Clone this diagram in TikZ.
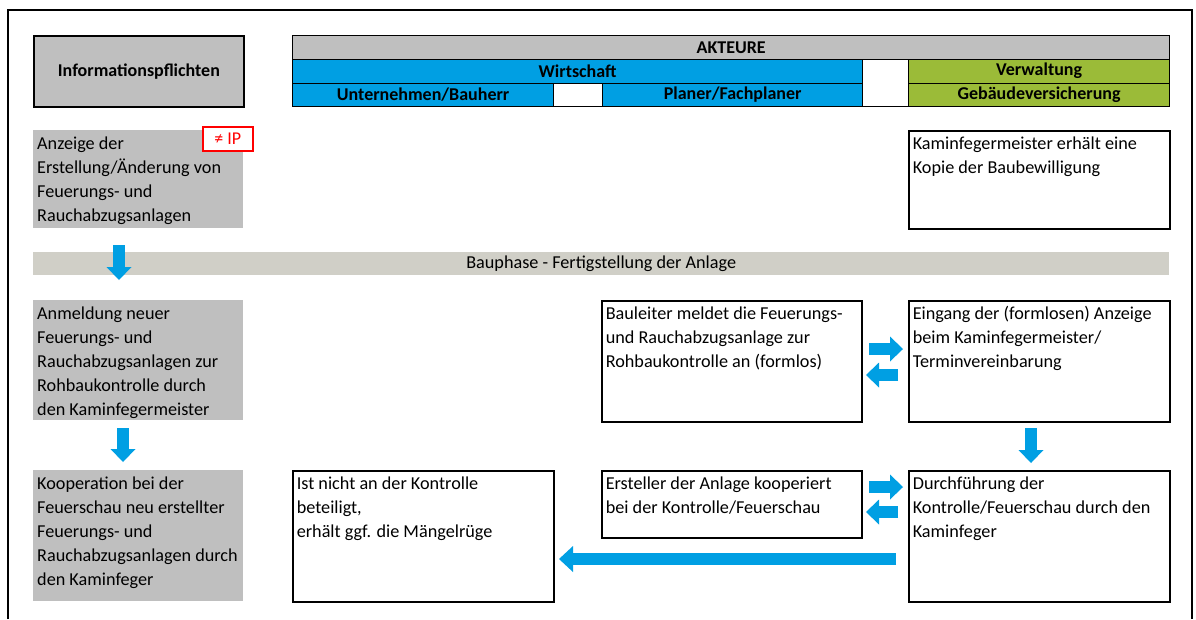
\documentclass[tikz,border=0pt]{standalone}
\usepackage{fontspec}
\setmainfont{Carlito}
\usetikzlibrary{arrows.meta}
\definecolor{ablue}{HTML}{009FE3}
\definecolor{agreen}{HTML}{9BBB38}
\definecolor{agray}{HTML}{BFBFBF}
\definecolor{bandgray}{HTML}{D0CFC7}
\definecolor{ired}{HTML}{FF0000}
% text block of fixed size, set from the top left corner
\newcommand\celltext[3]{\parbox[c][#2][t]{#1}{\raggedright\rule{0pt}{19pt}#3}}

\begin{document}
\begin{tikzpicture}[x=1pt,y=-1pt,
  every node/.style={font=\fontsize{18.2pt}{24pt}\selectfont, inner sep=0pt, anchor=north west},
  hcell/.style={draw=black, line width=1.3pt, fill=#1, font=\fontsize{18pt}{24pt}\selectfont\bfseries, align=center},
  graybox/.style={fill=agray, inner xsep=4pt},
  whitebox/.style={draw=black, line width=1.6pt, fill=white, inner xsep=4pt},
  blockarrow/.style={draw=ablue, line width=12pt, -{Triangle[length=13pt,width=25pt,line width=0pt]}},
]
\useasboundingbox (0,0) rectangle (1196,619);

% outer frame (open at the bottom)
\draw[line width=2pt] (8,619) -- (8,10) -- (1192,10) -- (1192,619);

% header
\node[hcell=agray, line width=1.8pt, minimum width=210pt, minimum height=71pt] (info) at (33,35) {Informationspflichten};
\node[hcell=agray, minimum width=877pt, minimum height=23.5pt] (akteure) at (292,35) {AKTEURE};
\node[hcell=ablue, minimum width=570pt, minimum height=24pt] (wirtschaft) at (292,58.5) {Wirtschaft};
\node[hcell=white, minimum width=46pt, minimum height=47.5pt] (gapA) at (862,58.5) {};
\node[hcell=agreen, minimum width=261pt, minimum height=24pt] (verwaltung) at (908,58.5) {Verwaltung};
\node[hcell=ablue, minimum width=261pt, minimum height=23.5pt] (bauherr) at (292,82.5) {Unternehmen/Bauherr};
\node[hcell=white, minimum width=49pt, minimum height=23.5pt] (gapB) at (553,82.5) {};
\node[hcell=ablue, minimum width=260pt, minimum height=23.5pt] (planer) at (602,82.5) {Planer/Fachplaner};
\node[hcell=agreen, minimum width=261pt, minimum height=23.5pt] (gvers) at (908,82.5) {Gebäudeversicherung};

% row 1
\node[graybox] (anzeige) at (33,130) {\celltext{202pt}{98pt}{Anzeige der\\Erstellung/Änderung von\\Feuerungs- und\\Rauchabzugsanlagen}};
\node[draw=ired, line width=1.6pt, fill=white, text=ired, minimum width=50pt, minimum height=24pt,
      font=\fontsize{18pt}{20pt}\selectfont] (nip) at (202,126) {≠ IP};
\node[whitebox] (kopie) at (908,130) {\celltext{253pt}{98pt}{Kaminfegermeister erhält eine\\Kopie der Baubewilligung}};

% construction phase band
\node[fill=bandgray, minimum width=1136pt, minimum height=23pt] (bau) at (33,252) {Bauphase - Fertigstellung der Anlage};

% row 2
\node[graybox] (anmeldung) at (33,300) {\celltext{202pt}{120pt}{Anmeldung neuer\\Feuerungs- und\\Rauchabzugsanlagen zur\\Rohbaukontrolle durch\\den Kaminfegermeister}};
\node[whitebox] (bauleiter) at (601,300) {\celltext{252pt}{121pt}{Bauleiter meldet die Feuerungs-\\und Rauchabzugsanlage zur\\Rohbaukontrolle an (formlos)}};
\node[whitebox] (eingang) at (908,300) {\celltext{253pt}{121pt}{Eingang der (formlosen) Anzeige\\beim Kaminfegermeister/\\Terminvereinbarung}};

% row 3
\node[graybox] (kooperation) at (33,470) {\celltext{202pt}{131pt}{Kooperation bei der\\Feuerschau neu erstellter\\Feuerungs- und\\\mbox{Rauchabzugsanlagen durch}\\den Kaminfeger}};
\node[whitebox] (nichtbet) at (292,470) {\celltext{253pt}{131pt}{Ist nicht an der Kontrolle\\beteiligt,\\erhält ggf. die Mängelrüge}};
\node[whitebox] (ersteller) at (601,470) {\celltext{252pt}{67pt}{Ersteller der Anlage kooperiert\\bei der Kontrolle/Feuerschau}};
\node[whitebox] (durchf) at (908,470) {\celltext{253pt}{131pt}{Durchführung der\\Kontrolle/Feuerschau durch den\\Kaminfeger}};

% arrow end points
\coordinate (d1a) at (119,245);  \coordinate (d1b) at (119,280);
\coordinate (d2a) at (123,428);  \coordinate (d2b) at (123,462);
\coordinate (d3a) at (1031,428); \coordinate (d3b) at (1031,463);
\coordinate (r2a) at (869,349);  \coordinate (r2b) at (903,349);
\coordinate (l2a) at (898,375);  \coordinate (l2b) at (866,375);
\coordinate (r3a) at (869,487);  \coordinate (r3b) at (903,487);
\coordinate (l3a) at (898,512);  \coordinate (l3b) at (866,512);
\coordinate (ba) at (896,559);   \coordinate (bb) at (559,559);

\draw[blockarrow] (d1a) -- (d1b);
\draw[blockarrow] (d2a) -- (d2b);
\draw[blockarrow] (d3a) -- (d3b);
\draw[blockarrow] (r2a) -- (r2b);
\draw[blockarrow] (l2a) -- (l2b);
\draw[blockarrow] (r3a) -- (r3b);
\draw[blockarrow] (l3a) -- (l3b);
\draw[blockarrow, -{Triangle[length=14pt,width=26pt,line width=0pt]}] (ba) -- (bb);
\end{tikzpicture}
\end{document}
